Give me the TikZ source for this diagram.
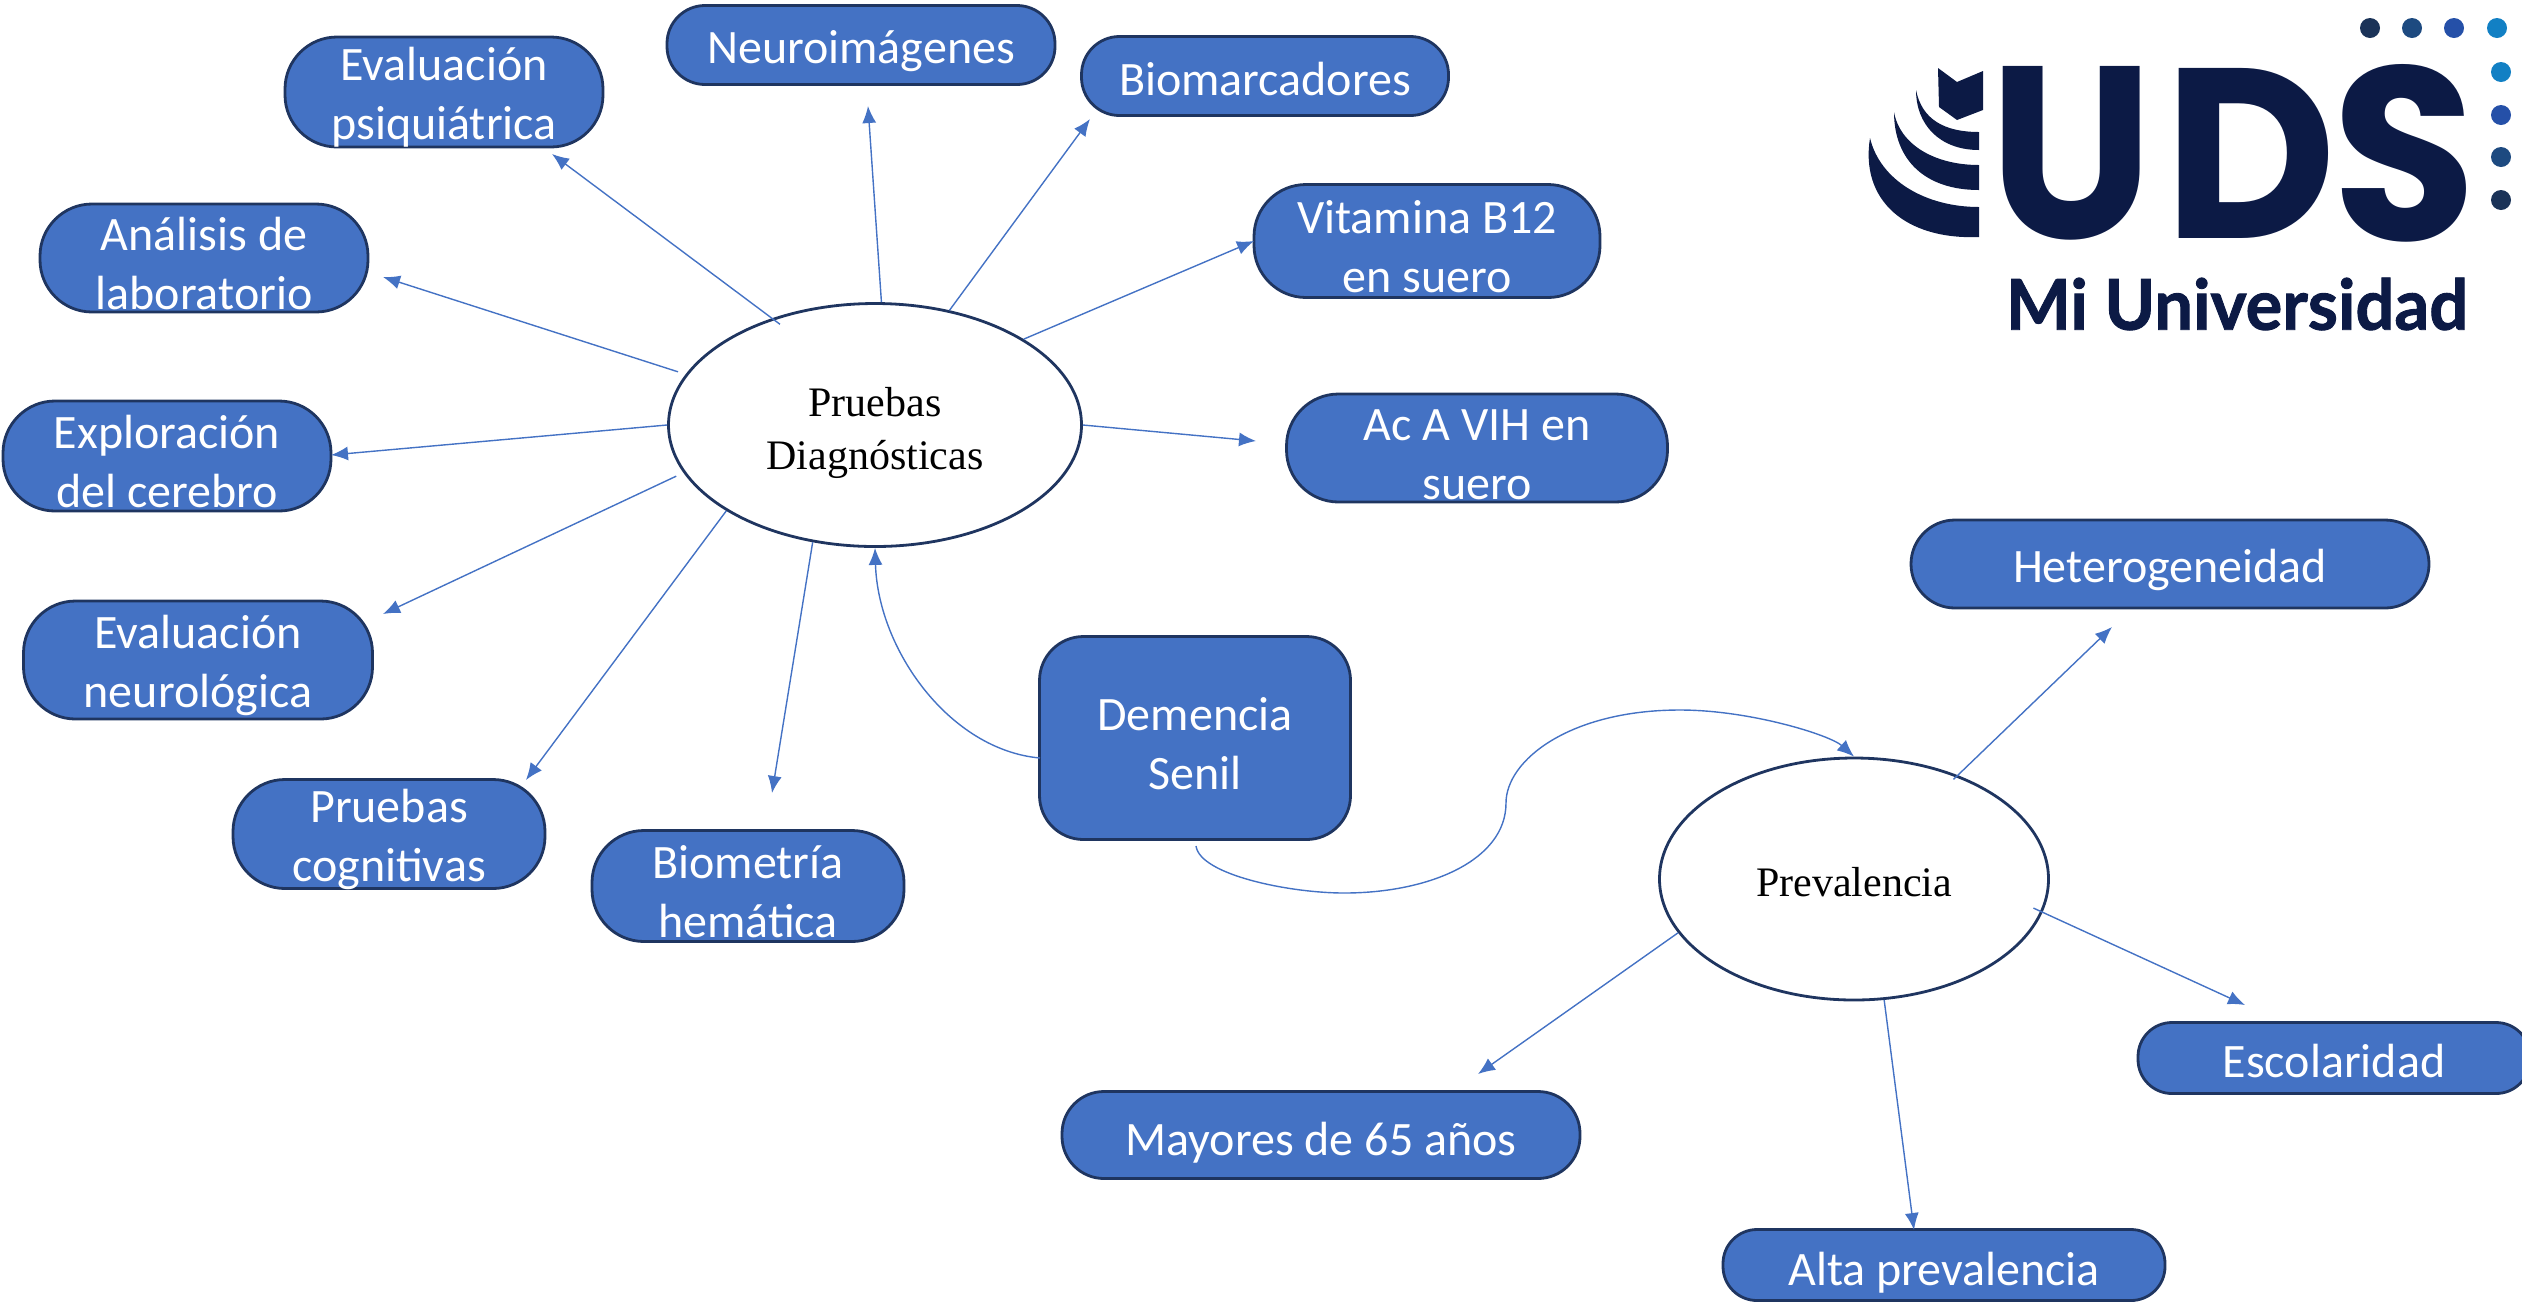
\documentclass[tikz,border=0pt]{standalone}
\usepackage{fontspec}
\setmainfont{Carlito}
\newfontfamily\ovalfont{Liberation Serif}
\newfontfamily\logofont{Poppins}
\newfontfamily\logosub[BoldFeatures={FakeBold=1.3}]{Lato}
\usetikzlibrary{arrows.meta,shapes.geometric}
\definecolor{boxblue}{HTML}{4472C4}
\definecolor{boxline}{HTML}{1F3560}
\definecolor{logonavy}{HTML}{0C1A45}
\definecolor{dotdark}{HTML}{1B3358}
\definecolor{dotmid}{HTML}{1D4A80}
\definecolor{dotblue}{HTML}{2550A8}
\definecolor{dotsky}{HTML}{1280C4}
\newcommand{\lowered}{\rule{0pt}{22pt}}
\tikzset{
    pill/.style={rectangle, rounded corners=#1, draw=boxline, line width=1.4pt, fill=boxblue,
        text=white, align=center, inner xsep=0mm, inner ysep=-6pt, font=\fontsize{24}{29.5}\selectfont},
    pill/.default=26pt,
    oval/.style={ellipse, draw=boxline, line width=1.4pt, fill=white, text=black, align=center,
        inner sep=0mm, font=\ovalfont\fontsize{21}{26.5}\selectfont},
    conn/.style={draw=boxblue, line width=.7pt, -{Latex[length=8.5pt,width=7pt]}},
    logotext/.style={inner sep=0mm, text=logonavy}
}
\begin{document}
\begin{tikzpicture}[x=.5pt, y=-.5pt]
        \useasboundingbox (0,0) rectangle (2522,1303);
        % main nodes
        \node (pd) [oval, minimum width=206.5pt, minimum height=121.5pt] at (875,425) {\rule{0pt}{23pt}Pruebas\\Diagnósticas};
        \node (prev) [oval, minimum width=194.5pt, minimum height=121pt] at (1854,879) {\rule{0pt}{18pt}Prevalencia};
        \node (senil) [pill=22pt, minimum width=155.5pt, minimum height=101.5pt] at (1195,738) {\lowered Demencia\\Senil};
        % boxes round the first oval
        \node (b0) [pill, minimum width=159pt, minimum height=55pt] at (444,92) {\lowered Evaluación\\psiquiátrica};
        \node (b1) [pill=19pt, minimum width=194pt, minimum height=39.5pt] at (861,45) {\rule{0pt}{23pt}Neuroimágenes};
        \node (b2) [pill=19pt, minimum width=183.5pt, minimum height=39.5pt] at (1265,76) {\rule{0pt}{20pt}Biomarcadores};
        \node (b3) [pill, minimum width=173pt, minimum height=56.5pt] at (1427,241) {\lowered Vitamina B12\\en suero};
        \node (b4) [pill, minimum width=190.5pt, minimum height=54pt] at (1477,448) {\lowered Ac A VIH en\\suero};
        \node (b5) [pill, minimum width=164pt, minimum height=54pt] at (204,258) {\lowered Análisis de\\laboratorio};
        \node (b6) [pill, minimum width=164pt, minimum height=55pt] at (167,456) {\lowered Exploración\\del cerebro};
        \node (b7) [pill, minimum width=174.5pt, minimum height=59pt] at (198,660) {\lowered Evaluación\\neurológica};
        \node (b8) [pill, minimum width=156pt, minimum height=54.5pt] at (389,834) {\lowered Pruebas\\cognitivas};
        \node (b9) [pill, minimum width=156pt, minimum height=55.5pt] at (748,886) {\lowered Biometría\\hemática};
        % boxes round the second oval
        \node (c0) [pill=22pt, minimum width=259pt, minimum height=44pt] at (2170,564) {\rule{0pt}{23pt}Heterogeneidad};
        \node (c1) [pill=17pt, minimum width=196pt, minimum height=35.5pt] at (2334,1058) {\rule{0pt}{20pt}Escolaridad};
        \node (c2) [pill=21pt, minimum width=259pt, minimum height=43.5pt] at (1321,1135) {\rule{0pt}{24pt}Mayores de 65 años};
        \node (c3) [pill=17pt, minimum width=221pt, minimum height=35.5pt] at (1944,1265) {\rule{0pt}{24pt}Alta prevalencia};
        % free ends of the arrows
        \coordinate (t0) at (552,154);
        \coordinate (t1) at (868,106);
        \coordinate (t2) at (1090,119);
        \coordinate (t3) at (1254,241);
        \coordinate (t4) at (1256,441);
        \coordinate (t5) at (383,277);
        \coordinate (t6) at (331,455);
        \coordinate (t7) at (383,614);
        \coordinate (t8) at (526,780);
        \coordinate (t9) at (772,793);
        \coordinate (u0) at (2112,627);
        \coordinate (u1) at (2245,1005);
        \coordinate (u2) at (1478,1074);
        \coordinate (u3) at (1914,1230);
        \coordinate (s0) at (1196,846);
        \coordinate (s1) at (1040,758);
        \draw (pd.134) edge [conn, shorten <=-5pt] (t0);
        \draw (pd.87) edge [conn] (t1);
        \draw (pd.57) edge [conn] (t2);
        \draw (pd.30) edge [conn] (t3);
        \draw (pd.0) edge [conn] (t4);
        \draw (pd.165) edge [conn, shorten <=4pt] (t5);
        \draw (pd.180) edge [conn] (t6);
        \draw (pd.194) edge [conn, shorten <=4pt] (t7);
        \draw (pd.210) edge [conn] (t8);
        \draw (pd.242) edge [conn] (t9);
        \draw (prev.45) edge [conn, shorten <=-3pt] (u0);
        \draw (prev.350) edge [conn, shorten <=-5pt] (u1);
        \draw (prev.197) edge [conn] (u2);
        \draw (prev.284) edge [conn] (u3);
        \draw [conn] (s1) .. controls (950,750) and (878,650) .. (pd.270);
        \draw [conn] (s0) .. controls (1200,875) and (1290,893) .. (1344,893)
                .. controls (1430,893) and (1506,860) .. (1506,803)
                .. controls (1506,760) and (1570,710) .. (1680,710)
                .. controls (1750,710) and (1830,735) .. (prev.90);
        % logo
        \node (lu) [logotext] at (2072,153) {\resizebox{82pt}{86pt}{\logofont\bfseries U}};
        \node (ld) [logotext] at (2251,153) {\resizebox{86pt}{85pt}{\logofont\bfseries D}};
        \node (ls) [logotext] at (2404,153) {\resizebox{72pt}{88pt}{\logofont\bfseries S}};
        \node (lm) [logotext] at (2237,304) {\resizebox{231pt}{26pt}{\logosub\bfseries Mi Universidad}};
        \fill [logonavy] (1938,68) -- (1957,82) -- (1983,71) -- (1983,110) -- (1957,120) -- (1939,107) -- cycle;
        \fill [logonavy] (1916,90) .. controls (1922,120) and (1945,132) .. (1979,132) -- (1979,150)
                .. controls (1940,150) and (1916,125) .. cycle;
        \fill [logonavy] (1894,112) .. controls (1900,145) and (1935,165) .. (1979,165) -- (1979,190)
                .. controls (1925,190) and (1894,160) .. cycle;
        \fill [logonavy] (1870,138) .. controls (1880,180) and (1925,207) .. (1979,207) -- (1979,237)
                .. controls (1905,240) and (1860,200) .. cycle;
        \fill [dotdark] (2370,28) circle [radius=5pt];
        \fill [dotmid] (2412,28) circle [radius=5pt];
        \fill [dotblue] (2454,28) circle [radius=5pt];
        \fill [dotsky] (2497,28) circle [radius=5pt];
        \fill [dotsky] (2501,72) circle [radius=5pt];
        \fill [dotblue] (2501,115) circle [radius=5pt];
        \fill [dotmid] (2501,157) circle [radius=5pt];
        \fill [dotdark] (2501,200) circle [radius=5pt];
\end{tikzpicture}
\end{document}
